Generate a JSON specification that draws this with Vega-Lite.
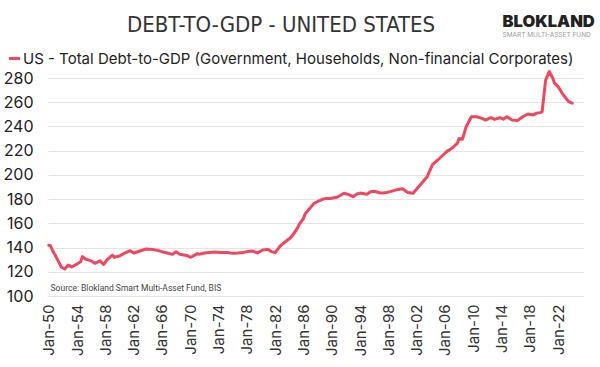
{
  "$schema": "https://vega.github.io/schema/vega-lite/v6.json",
  "width": 536,
  "height": 218,
  "autosize": {"type": "none"},
  "padding": {"left": 48, "top": 78, "right": 16, "bottom": 71},
  "background": "white",
  "title": {
    "text": "DEBT-TO-GDP - UNITED STATES",
    "anchor": "start",
    "frame": "group",
    "dx": 79,
    "offset": -41,
    "baseline": "alphabetic",
    "font": "DejaVu Sans Condensed, DejaVu Sans, sans-serif",
    "fontSize": 22,
    "fontWeight": "normal",
    "color": "#333333"
  },
  "config": {"view": {"stroke": null}, "font": "Inter", "axis": {"labelOverlap": false, "labelSeparation": 0}},
  "data": {
    "values": [
      {"date": "1950-01-01", "v": 141.9},
      {"date": "1950-04-01", "v": 141.5},
      {"date": "1950-07-01", "v": 138},
      {"date": "1951-04-01", "v": 130},
      {"date": "1951-10-01", "v": 124},
      {"date": "1952-04-01", "v": 122.3},
      {"date": "1952-10-01", "v": 125.5},
      {"date": "1953-04-01", "v": 124},
      {"date": "1953-10-01", "v": 125.6},
      {"date": "1954-07-01", "v": 128.3},
      {"date": "1954-10-01", "v": 132.5},
      {"date": "1955-04-01", "v": 130.3},
      {"date": "1956-01-01", "v": 129},
      {"date": "1956-07-01", "v": 127},
      {"date": "1957-04-01", "v": 129},
      {"date": "1957-10-01", "v": 126},
      {"date": "1958-04-01", "v": 130},
      {"date": "1959-01-01", "v": 133.8},
      {"date": "1959-04-01", "v": 132},
      {"date": "1960-01-01", "v": 133},
      {"date": "1960-10-01", "v": 135.5},
      {"date": "1961-07-01", "v": 137.4},
      {"date": "1962-01-01", "v": 135.5},
      {"date": "1963-01-01", "v": 137.4},
      {"date": "1963-10-01", "v": 138.8},
      {"date": "1964-10-01", "v": 138.3},
      {"date": "1965-07-01", "v": 137.5},
      {"date": "1966-01-01", "v": 136.6},
      {"date": "1966-10-01", "v": 135.5},
      {"date": "1967-07-01", "v": 134.4},
      {"date": "1968-01-01", "v": 136.6},
      {"date": "1968-07-01", "v": 134.4},
      {"date": "1969-07-01", "v": 133.5},
      {"date": "1970-01-01", "v": 132},
      {"date": "1970-04-01", "v": 132.5},
      {"date": "1971-01-01", "v": 135},
      {"date": "1971-04-01", "v": 134.4},
      {"date": "1972-01-01", "v": 135.5},
      {"date": "1972-10-01", "v": 136},
      {"date": "1973-07-01", "v": 136.3},
      {"date": "1974-04-01", "v": 136},
      {"date": "1975-04-01", "v": 136},
      {"date": "1976-01-01", "v": 135.2},
      {"date": "1976-10-01", "v": 135.5},
      {"date": "1977-07-01", "v": 136},
      {"date": "1978-01-01", "v": 136.6},
      {"date": "1978-10-01", "v": 137.2},
      {"date": "1979-07-01", "v": 135.6},
      {"date": "1980-04-01", "v": 138},
      {"date": "1981-01-01", "v": 138.5},
      {"date": "1981-07-01", "v": 136.6},
      {"date": "1982-01-01", "v": 135.8},
      {"date": "1982-10-01", "v": 141.5},
      {"date": "1983-07-01", "v": 145},
      {"date": "1984-04-01", "v": 148.5},
      {"date": "1985-01-01", "v": 154.5},
      {"date": "1985-07-01", "v": 160},
      {"date": "1986-01-01", "v": 164},
      {"date": "1986-04-01", "v": 168},
      {"date": "1987-01-01", "v": 173},
      {"date": "1987-07-01", "v": 176.5},
      {"date": "1988-01-01", "v": 178},
      {"date": "1988-10-01", "v": 180},
      {"date": "1989-04-01", "v": 180.5},
      {"date": "1989-10-01", "v": 180.5},
      {"date": "1990-10-01", "v": 181.5},
      {"date": "1991-07-01", "v": 184},
      {"date": "1991-10-01", "v": 184.8},
      {"date": "1992-07-01", "v": 183.5},
      {"date": "1993-01-01", "v": 182},
      {"date": "1993-07-01", "v": 184},
      {"date": "1994-01-01", "v": 185},
      {"date": "1995-01-01", "v": 184},
      {"date": "1995-07-01", "v": 186},
      {"date": "1996-01-01", "v": 186.5},
      {"date": "1996-10-01", "v": 185.3},
      {"date": "1997-04-01", "v": 185},
      {"date": "1997-10-01", "v": 185.5},
      {"date": "1998-04-01", "v": 186.2},
      {"date": "1998-10-01", "v": 187},
      {"date": "1999-04-01", "v": 187.8},
      {"date": "2000-01-01", "v": 188.5},
      {"date": "2000-10-01", "v": 185.5},
      {"date": "2001-07-01", "v": 184.8},
      {"date": "2002-07-01", "v": 191.7},
      {"date": "2003-07-01", "v": 198.5},
      {"date": "2004-04-01", "v": 208.5},
      {"date": "2005-01-01", "v": 212.3},
      {"date": "2005-10-01", "v": 216.4},
      {"date": "2006-04-01", "v": 219.2},
      {"date": "2007-01-01", "v": 222},
      {"date": "2007-10-01", "v": 226},
      {"date": "2008-01-01", "v": 230},
      {"date": "2008-07-01", "v": 229.5},
      {"date": "2009-01-01", "v": 239.8},
      {"date": "2009-10-01", "v": 248},
      {"date": "2010-07-01", "v": 248},
      {"date": "2011-04-01", "v": 246.7},
      {"date": "2011-10-01", "v": 245.3},
      {"date": "2012-07-01", "v": 247.2},
      {"date": "2013-01-01", "v": 245.8},
      {"date": "2013-10-01", "v": 247.2},
      {"date": "2014-04-01", "v": 246},
      {"date": "2014-10-01", "v": 248},
      {"date": "2015-07-01", "v": 245.3},
      {"date": "2016-04-01", "v": 244.8},
      {"date": "2017-01-01", "v": 248},
      {"date": "2017-10-01", "v": 250.3},
      {"date": "2018-07-01", "v": 249.5},
      {"date": "2019-01-01", "v": 251},
      {"date": "2019-07-01", "v": 251.4},
      {"date": "2019-10-01", "v": 252.2},
      {"date": "2020-04-01", "v": 278.4},
      {"date": "2020-10-01", "v": 285.3},
      {"date": "2021-04-01", "v": 280},
      {"date": "2021-07-01", "v": 275.7},
      {"date": "2022-01-01", "v": 272.9},
      {"date": "2022-10-01", "v": 266},
      {"date": "2023-07-01", "v": 260.5},
      {"date": "2024-01-01", "v": 259.2}
    ]
  },
  "layer": [
    {
      "mark": {"type": "line", "strokeWidth": 3, "strokeJoin": "round", "strokeCap": "round"},
      "encoding": {
        "x": {
          "field": "date",
          "type": "temporal",
          "scale": {
            "type": "utc",
            "domain": [
              {"year": 1949, "month": 11, "date": 20, "utc": true},
              {"year": 2025, "month": 9, "date": 1, "utc": true}
            ]
          },
          "axis": {
            "values": [
              {"year": 1950, "month": 1, "date": 1, "utc": true},
              {"year": 1954, "month": 1, "date": 1, "utc": true},
              {"year": 1958, "month": 1, "date": 1, "utc": true},
              {"year": 1962, "month": 1, "date": 1, "utc": true},
              {"year": 1966, "month": 1, "date": 1, "utc": true},
              {"year": 1970, "month": 1, "date": 1, "utc": true},
              {"year": 1974, "month": 1, "date": 1, "utc": true},
              {"year": 1978, "month": 1, "date": 1, "utc": true},
              {"year": 1982, "month": 1, "date": 1, "utc": true},
              {"year": 1986, "month": 1, "date": 1, "utc": true},
              {"year": 1990, "month": 1, "date": 1, "utc": true},
              {"year": 1994, "month": 1, "date": 1, "utc": true},
              {"year": 1998, "month": 1, "date": 1, "utc": true},
              {"year": 2002, "month": 1, "date": 1, "utc": true},
              {"year": 2006, "month": 1, "date": 1, "utc": true},
              {"year": 2010, "month": 1, "date": 1, "utc": true},
              {"year": 2014, "month": 1, "date": 1, "utc": true},
              {"year": 2018, "month": 1, "date": 1, "utc": true},
              {"year": 2022, "month": 1, "date": 1, "utc": true}
            ],
            "tickCount": 40,
            "format": "%b-%y",
            "labelAngle": -90,
            "labelAlign": "right",
            "labelBaseline": "middle",
            "labelFont": "Inter",
            "labelFontSize": 15,
            "labelColor": "#333333",
            "labelPadding": 8,
            "labelOverlap": false,
            "labelBound": false,
            "labelFlush": false,
            "grid": false,
            "ticks": false,
            "domain": false,
            "title": "SMART MULTI-ASSET FUND",
            "titleX": 454,
            "titleY": -262,
            "titleAlign": "left",
            "titleBaseline": "middle",
            "titleAnchor": null,
            "titleFont": "Inter",
            "titleFontSize": 6.5,
            "titleFontWeight": "normal",
            "titleColor": "#9a9a9a"
          }
        },
        "y": {
          "field": "v",
          "type": "quantitative",
          "scale": {"domain": [100, 280], "nice": false, "zero": false},
          "axis": {
            "values": [100, 120, 140, 160, 180, 200, 220, 240, 260, 280],
            "tickCount": 20,
            "grid": true,
            "gridColor": "#e4e4e4",
            "gridWidth": 1,
            "ticks": false,
            "domain": false,
            "labelOverlap": false,
            "labelFont": "Inter",
            "labelFontSize": 16,
            "labelColor": "#222222",
            "labelPadding": 15,
            "title": "BLOKLAND",
            "titleAngle": 0,
            "titleX": 454,
            "titleY": -57,
            "titleAlign": "left",
            "titleBaseline": "middle",
            "titleFont": "Inter",
            "titleFontSize": 16.5,
            "titleFontWeight": 900,
            "titleColor": "#222222"
          }
        },
        "color": {
          "datum": "US - Total Debt-to-GDP (Government, Households, Non-financial Corporates)",
          "type": "nominal",
          "scale": {"range": ["#ef475d"]},
          "legend": {
            "orient": "none",
            "legendX": -41,
            "legendY": -27,
            "title": null,
            "padding": 0,
            "symbolType": "stroke",
            "symbolStrokeWidth": 3,
            "symbolSize": 120,
            "labelFont": "Inter",
            "labelFontSize": 15,
            "labelColor": "#222222",
            "labelLimit": 700,
            "labelOffset": 1
          }
        }
      }
    },
    {
      "data": {"values": [{}]},
      "mark": {
        "type": "text",
        "text": "Source: Blokland Smart Multi-Asset Fund, BIS",
        "align": "left",
        "baseline": "middle",
        "font": "Roboto",
        "fontSize": 8.5,
        "color": "#444444"
      },
      "encoding": {
        "x": {"datum": {"year": 1950, "month": 4, "date": 1, "utc": true}, "type": "temporal"},
        "y": {"datum": 106.6}
      }
    }
  ]
}
